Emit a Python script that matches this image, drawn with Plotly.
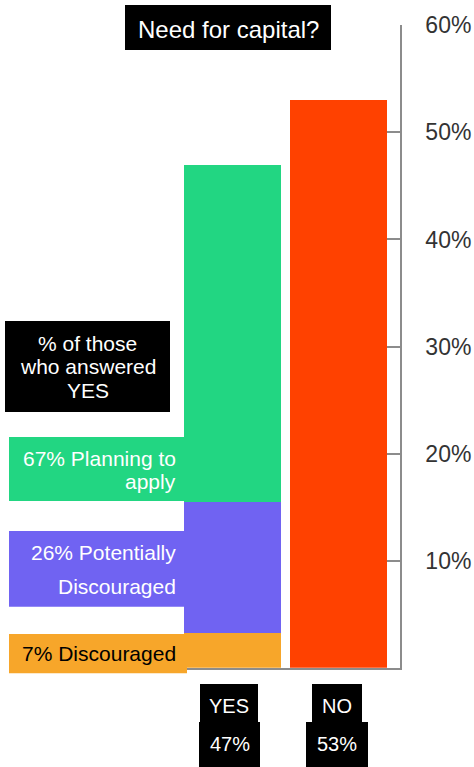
import plotly.graph_objects as go

# --- data -------------------------------------------------------------
categories = ["YES", "NO"]
answer_totals = [47, 53]                      # % of all respondents
yes_breakdown_labels = ["Discouraged", "Potentially Discouraged", "Planning to apply"]
yes_breakdown_shares = [7, 26, 67]            # % of those who answered YES
tick_values = [10, 20, 30, 40, 50, 60]
tick_labels = ["10%", "20%", "30%", "40%", "50%", "60%"]

# --- style ------------------------------------------------------------
W, H = 474, 767
FONT = "Liberation Sans, Arial, Helvetica, sans-serif"
AXIS_GRAY = "#8c8c8c"
segment_colors = ["#F7A62A", "#7063F2", "#22D682"]
no_color = "#FF4100"


def fx(px):
    return px / W


def fy(py):
    return 1 - py / H


fig = go.Figure()

# YES bar, stacked by how the YES group splits
yes_total = answer_totals[categories.index("YES")]
for label, share, color in zip(yes_breakdown_labels, yes_breakdown_shares, segment_colors):
    fig.add_trace(go.Bar(
        x=["YES"], y=[yes_total * share / 100], name=label,
        marker=dict(color=color, line=dict(width=0)), width=0.915,
        hoverinfo="skip",
    ))

# NO bar
fig.add_trace(go.Bar(
    x=["NO"], y=[answer_totals[categories.index("NO")]], name="NO",
    marker=dict(color=no_color, line=dict(width=0)), width=0.915,
    hoverinfo="skip",
))

shapes = []
annotations = []


def box(x0, y0, x1, y1, color):
    shapes.append(dict(type="rect", xref="paper", yref="paper",
                       x0=fx(x0), x1=fx(x1), y0=fy(y1), y1=fy(y0),
                       fillcolor=color, line=dict(width=0), layer="above"))


def text(s, x, y, size, color="white", anchor="center"):
    annotations.append(dict(text=s, xref="paper", yref="paper",
                            x=fx(x), y=fy(y), xanchor=anchor, yanchor="middle",
                            showarrow=False,
                            font=dict(family=FONT, size=size, color=color)))


# title
box(125, 5, 331, 50, "black")
text("Need for capital?", 228, 29, 24)

# caption for the breakdown
box(5, 321, 170, 412, "black")
text("% of those", 87.5, 343, 21)
text("who answered", 87.5, 366.5, 21)
text("YES", 87.5, 390, 21)

# segment labels, attached to the left of the YES bar
box(9, 437, 185, 501, segment_colors[2])
text(f"{yes_breakdown_shares[2]}% Planning to", 178, 458.7, 21, anchor="right")
text("apply", 178, 481, 21, anchor="right")

box(9, 531, 185, 606.7, segment_colors[1])
text(f"{yes_breakdown_shares[1]}% Potentially", 178, 552, 21, anchor="right")
text("Discouraged", 178, 586.5, 21, anchor="right")

box(9, 634, 187, 673.3, segment_colors[0])
text(f"{yes_breakdown_shares[0]}% {yes_breakdown_labels[0]}", 178, 653.7, 21,
     color="black", anchor="right")

# category labels with totals
box(200, 684, 258, 722, "black")
text(categories[0], 229, 706, 20)
box(199, 722, 260, 767, "black")
text(f"{answer_totals[0]}%", 229.5, 744, 20)

box(312, 684, 362, 722, "black")
text(categories[1], 337, 706, 20)
box(306, 722, 368, 767, "black")
text(f"{answer_totals[1]}%", 337, 744, 20)

fig.update_layout(
    width=W, height=H,
    margin=dict(l=0, r=0, t=0, b=0, pad=0, autoexpand=False),
    paper_bgcolor="white", plot_bgcolor="white",
    barmode="stack", showlegend=False,
    shapes=shapes, annotations=annotations,
    xaxis=dict(
        domain=[fx(184), fx(400)],
        type="category", categoryorder="array", categoryarray=categories,
        range=[-0.4575, 1.5802],
        showticklabels=False, ticks="", showgrid=False, zeroline=False,
        showline=True, linecolor=AXIS_GRAY, linewidth=1.5,
    ),
    yaxis=dict(
        domain=[fy(667.8), fy(25.3)],
        range=[0, 60], side="right",
        tickvals=tick_values, ticktext=tick_labels,
        ticks="inside", ticklen=13, tickcolor=AXIS_GRAY, tickwidth=1.5,
        ticklabelstandoff=19,
        tickfont=dict(family=FONT, size=23, color="#333333"),
        showgrid=False, zeroline=False,
        showline=True, linecolor=AXIS_GRAY, linewidth=1.5,
    ),
)

fig.write_html(
    "out.html",
    config={"displayModeBar": False},
    post_script="document.body.style.margin='0';",
)
